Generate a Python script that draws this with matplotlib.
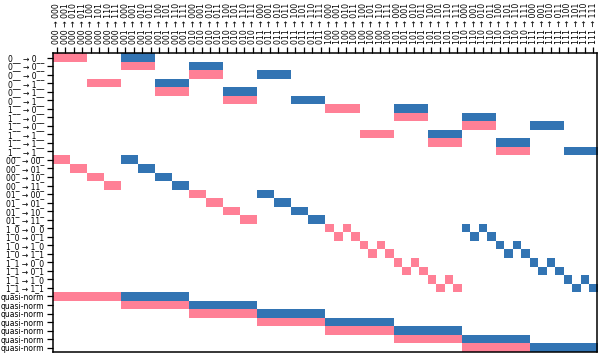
import numpy as np
import matplotlib
matplotlib.use("Agg")
import matplotlib.pyplot as plt
from matplotlib.colors import ListedColormap

# column categories: transitions between 3-bit states
states = ["000", "001", "010", "011", "100", "101", "110", "111"]
col_labels = [f"{a} → {b}" for a in states for b in states]

# row labels
row_labels = (
    ["0__ → 0__"] * 3 + ["0__ → 1__"] * 3 + ["1__ → 0__"] * 3 + ["1__ → 1__"] * 3
    + ["00_ → 00_", "00_ → 01_", "00_ → 10_", "00_ → 11_",
       "01_ → 00_", "01_ → 01_", "01_ → 10_", "01_ → 11_",
       "1_0 → 0_0", "1_0 → 0_1", "1_0 → 1_0", "1_0 → 1_1",
       "1_1 → 0_0", "1_1 → 0_1", "1_1 → 1_0", "1_1 → 1_1"]
    + ["quasi-norm"] * 7
)

# columns with value +1 (pink) in each row
pos_cols = [
    [0, 1, 2, 3], [8, 9, 10, 11], [16, 17, 18, 19],
    [4, 5, 6, 7], [12, 13, 14, 15], [20, 21, 22, 23],
    [32, 33, 34, 35], [40, 41, 42, 43], [48, 49, 50, 51],
    [36, 37, 38, 39], [44, 45, 46, 47], [52, 53, 54, 55],
    [0, 1], [2, 3], [4, 5], [6, 7],
    [16, 17], [18, 19], [20, 21], [22, 23],
    [32, 34], [33, 35], [36, 38], [37, 39],
    [40, 42], [41, 43], [44, 46], [45, 47],
    [0, 1, 2, 3, 4, 5, 6, 7], [8, 9, 10, 11, 12, 13, 14, 15],
    [16, 17, 18, 19, 20, 21, 22, 23], [24, 25, 26, 27, 28, 29, 30, 31],
    [32, 33, 34, 35, 36, 37, 38, 39], [40, 41, 42, 43, 44, 45, 46, 47],
    [48, 49, 50, 51, 52, 53, 54, 55],
]

# columns with value -1 (blue) in each row
neg_cols = [
    [8, 9, 10, 11], [16, 17, 18, 19], [24, 25, 26, 27],
    [12, 13, 14, 15], [20, 21, 22, 23], [28, 29, 30, 31],
    [40, 41, 42, 43], [48, 49, 50, 51], [56, 57, 58, 59],
    [44, 45, 46, 47], [52, 53, 54, 55], [60, 61, 62, 63],
    [8, 9], [10, 11], [12, 13], [14, 15],
    [24, 25], [26, 27], [28, 29], [30, 31],
    [48, 50], [49, 51], [52, 54], [53, 55],
    [56, 58], [57, 59], [60, 62], [61, 63],
    [8, 9, 10, 11, 12, 13, 14, 15], [16, 17, 18, 19, 20, 21, 22, 23],
    [24, 25, 26, 27, 28, 29, 30, 31], [32, 33, 34, 35, 36, 37, 38, 39],
    [40, 41, 42, 43, 44, 45, 46, 47], [48, 49, 50, 51, 52, 53, 54, 55],
    [56, 57, 58, 59, 60, 61, 62, 63],
]

# build the constraint matrix
mat = np.zeros((len(row_labels), len(col_labels)))
for i, (p, n) in enumerate(zip(pos_cols, neg_cols)):
    mat[i, p] = 1
    mat[i, n] = -1

cmap = ListedColormap(["#3274b3", "#ffffff", "#ff8096"])

fig = plt.figure(figsize=(6, 3.53), dpi=100)
ax = fig.add_axes([0.0878, 0.003, 0.908, 0.846])
ax.imshow(mat, cmap=cmap, vmin=-1, vmax=1, aspect="auto", interpolation="nearest")

ax.xaxis.tick_top()
ax.set_xticks(np.arange(len(col_labels)))
ax.set_xticklabels(col_labels, rotation=90, fontsize=5.6)
ax.set_yticks(np.arange(len(row_labels)))
ax.set_yticklabels(row_labels, fontsize=5.5)
ax.tick_params(length=4.5, width=0.9, pad=2.5)
ax.tick_params(axis="y", pad=1.8)
for s in ax.spines.values():
    s.set_linewidth(1.1)

fig.savefig("out.png", dpi=100)
